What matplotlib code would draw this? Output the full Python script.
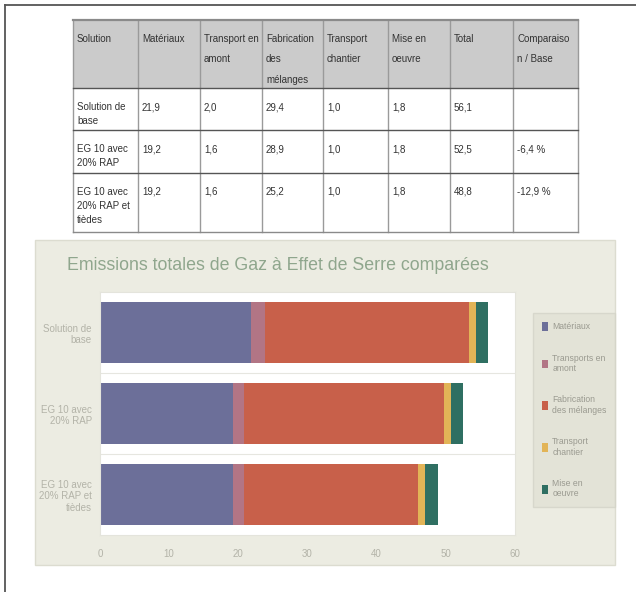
import matplotlib
matplotlib.use("Agg")
from matplotlib import pyplot as plt
from matplotlib.patches import Rectangle
import numpy as np

plt.rcParams['font.family'] = ['Liberation Sans Narrow', 'Liberation Sans', 'DejaVu Sans']

# data
solutions = ["Solution de\nbase", "EG 10 avec\n20% RAP", "EG 10 avec\n20% RAP et\ntièdes"]
materiaux = [21.9, 19.2, 19.2]
transport_amont = [2.0, 1.6, 1.6]
fabrication = [29.4, 28.9, 25.2]
transport_chantier = [1.0, 1.0, 1.0]
mise_en_oeuvre = [1.8, 1.8, 1.8]
totals = [56.1, 52.5, 48.8]
comparaison = ["", "-6,4 %", "-12,9 %"]

headers = ["Solution", "Matériaux", "Transport en\namont", "Fabrication\ndes\nmélanges",
           "Transport\nchantier", "Mise en\noeuvre", "Total", "Comparaiso\nn / Base"]
legend_labels = ["Matériaux", "Transports en\namont", "Fabrication\ndes mélanges",
                 "Transport\nchantier", "Mise en\noeuvre"]
colors = ["#6c6f99", "#b27585", "#c8604a", "#e2b457", "#2f6f62"]
xticks = [0, 10, 20, 30, 40, 50, 60]

W, H = 636, 592
fig = plt.figure(figsize=(W / 100, H / 100), dpi=100)
fig.patch.set_facecolor("white")

# pixel overlay for page frame, table and chart panel
fr = fig.add_axes([0, 0, 1, 1])
fr.set_xlim(0, W)
fr.set_ylim(H, 0)
fr.axis("off")

fr.plot([5, W], [5, 5], color="#555555", lw=1.3)
fr.plot([5, 5], [5, H], color="#555555", lw=1.3)

# table
col_x = [73, 138, 200, 262, 323, 388, 450, 513, 578]
row_y = [20, 88, 130, 173, 232]
fr.add_patch(Rectangle((col_x[0], row_y[0]), col_x[-1] - col_x[0], row_y[1] - row_y[0],
                       facecolor="#cbcbcb", edgecolor="none"))
for x in col_x:
    fr.plot([x, x], [row_y[0], row_y[-1]], color="#9a9a9a", lw=1)
for i, y in enumerate(row_y):
    c = "#8a8a8a" if i in (0, len(row_y) - 1) else "#555555"
    fr.plot([col_x[0], col_x[-1]], [y, y], color=c, lw=1.6 if i == 0 else 1)

for j, h in enumerate(headers):
    fr.text(col_x[j] + 4, row_y[0] + 14, h, fontsize=7, color="#333333",
            ha="left", va="top", linespacing=2.3)

fmt = lambda v: f"{v:.1f}".replace(".", ",")
for i in range(len(solutions)):
    cells = [solutions[i], fmt(materiaux[i]), fmt(transport_amont[i]), fmt(fabrication[i]),
             fmt(transport_chantier[i]), fmt(mise_en_oeuvre[i]), fmt(totals[i]), comparaison[i]]
    for j, t in enumerate(cells):
        fr.text(col_x[j] + 4, row_y[i + 1] + 14, t, fontsize=7, color="#333333",
                ha="left", va="top", linespacing=1.5)

# chart panel
fr.add_patch(Rectangle((35, 240), 580, 325, facecolor="#ecece2", edgecolor="#dcdcd0", lw=1))
fr.text(67, 265, "Emissions totales de Gaz à Effet de Serre comparées", fontsize=12.8,
        color="#8fa68d", ha="left", va="center")

# chart axes
ax = fig.add_axes([100 / W, 1 - 535 / H, 415 / W, 243 / H])
ax.set_facecolor("white")
y = np.arange(len(solutions))
left = np.zeros(len(solutions))
series = [materiaux, transport_amont, fabrication, transport_chantier, mise_en_oeuvre]
bars = []
for vals, col in zip(series, colors):
    b = ax.barh(y, vals, left=left, height=0.76, color=col, edgecolor="none")
    bars.append(b)
    left += np.array(vals)

ax.set_xlim(0, 60)
ax.set_ylim(2.5, -0.5)
ax.set_xticks(xticks)
ax.set_yticks(y)
ax.set_yticklabels(solutions)
for yy in [0.5, 1.5]:
    ax.axhline(yy, color="#e6e6e0", lw=0.8)
ax.tick_params(length=0, labelsize=7, labelcolor="#b3b3a8")
ax.tick_params(axis="x", pad=10)
ax.tick_params(axis="y", pad=6)
for s in ax.spines.values():
    s.set_color("#e4e4dc")

leg = fig.legend(bars, legend_labels, loc="upper left", bbox_to_anchor=(529 / W, 1 - 309 / H),
                 fontsize=6.2, labelcolor="#9a9a90", handlelength=0.7, handleheight=1.2,
                 handletextpad=0.5, labelspacing=2.6, borderpad=1.0, frameon=True,
                 fancybox=False)
leg.get_frame().set_facecolor("#e1e1d5")
leg.get_frame().set_edgecolor("#d4d4c8")

fig.savefig("out.png", dpi=100)
